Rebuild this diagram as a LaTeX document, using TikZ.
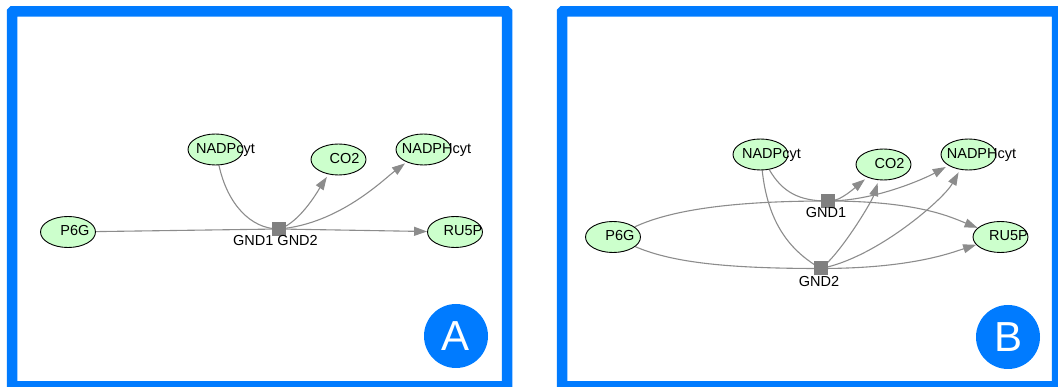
\documentclass[tikz,border=0pt]{standalone}
\usepackage{fontspec}
\setmainfont{Liberation Sans}
\usetikzlibrary{arrows.meta,shapes.geometric}
\definecolor{frameblue}{RGB}{0,123,255}
\definecolor{metfill}{RGB}{204,255,204}
\definecolor{edgegray}{RGB}{140,140,140}
\definecolor{rxngray}{RGB}{128,128,128}
\pgfdeclarelayer{edges}
\pgfsetlayers{edges,main}
\tikzset{
  metab/.style={ellipse, draw=black, line width=0.9pt, fill=metfill,
    minimum width=55pt, minimum height=31pt, inner sep=0pt},
  mlabel/.style={font=\fontsize{14.5}{17}\selectfont, inner sep=0pt,
    text height=10.5pt, text depth=3pt},
  rxn/.style={rectangle, fill=rxngray, minimum size=14pt, inner sep=0pt},
  rlabel/.style={font=\fontsize{14.5}{17}\selectfont, inner sep=0pt},
  flow/.style={draw=edgegray, line width=1.1pt},
  prod/.style={flow, -{Triangle[length=13pt,width=9pt]}},
  panel/.style={draw=frameblue, line width=10.5pt, rounded corners=0.5pt},
  tag/.style={circle, fill=frameblue, minimum size=64pt, inner sep=0pt,
    text=white, font=\fontsize{42}{42}\selectfont},
}
\begin{document}
\begin{tikzpicture}[x=1pt, y=-1pt]
\useasboundingbox (0,0) rectangle (1058,387);
\clip (0,0) rectangle (1058,387);

% ---------- panel A: one merged reaction node ----------
\draw[panel] (12,11.5) rectangle (507,386.5);
\node[tag] (tagA) at (456,336) {A};

\node[metab, label={[mlabel, xshift=7pt]center:P6G}]      (p6gA)   at (68,232)    {};
\node[metab, label={[mlabel, xshift=10pt]center:NADPcyt}] (nadpA)  at (215.5,149.5) {};
\node[metab, label={[mlabel, xshift=6pt]center:CO2}]      (co2A)   at (338.5,159.5) {};
\node[metab, label={[mlabel, xshift=13pt]center:NADPHcyt}](nadphA) at (423.5,149.5) {};
\node[metab, label={[mlabel, xshift=8pt]center:RU5P}]     (ru5pA)  at (455,232)   {};
\node[rxn] (gndA) at (279,229) {};
\node[rlabel] (gndAlbl) at (275.5,241) {GND1 GND2};

\begin{pgfonlayer}{edges}
\draw[flow] (p6gA) -- (gndA.center);
\draw[flow] (nadpA) .. controls +(12,55) and +(-28,0) .. (gndA.center);
\draw[prod, shorten >=3pt] (gndA.center) .. controls +(22,-6) and +(-16,24) .. (co2A);
\draw[prod, shorten >=2pt] (gndA.center) .. controls +(60,-5) and +(-40,30) .. (nadphA);
\draw[prod] (gndA.center) -- (ru5pA);
\end{pgfonlayer}

% ---------- panel B: two separate reaction nodes ----------
\draw[panel] (562,11.5) rectangle (1057,386.5);
\node[tag] (tagB) at (1008,337) {B};

\node[metab, label={[mlabel, xshift=7pt]center:P6G}]      (p6gB)   at (613,237)    {};
\node[metab, label={[mlabel, xshift=11pt]center:NADPcyt}] (nadpB)  at (760.5,154.5) {};
\node[metab, label={[mlabel, xshift=6pt]center:CO2}]      (co2B)   at (883.5,164.5) {};
\node[metab, label={[mlabel, xshift=13pt]center:NADPHcyt}](nadphB) at (968.5,154.5) {};
\node[metab, label={[mlabel, xshift=8pt]center:RU5P}]     (ru5pB)  at (1000.5,237)  {};
\node[rxn] (gnd1B) at (827.5,201)   {};
\node[rxn] (gnd2B) at (820.5,268.5) {};
\node[rlabel] (gnd1Blbl) at (826,213)   {GND1};
\node[rlabel] (gnd2Blbl) at (819,281.5) {GND2};

\begin{pgfonlayer}{edges}
% GND1
\draw[flow] (p6gB) .. controls +(60,-28) and +(-90,0) .. (gnd1B.center);
\draw[flow] (nadpB) .. controls +(22,38) and +(-28,0) .. (gnd1B.center);
\draw[prod] (gnd1B.center) .. controls +(90,0) and +(-50,-20) .. (ru5pB);
\draw[prod, shorten >=3pt] (gnd1B) .. controls +(16,-2) and +(-20,16) .. (co2B);
\draw[prod, shorten >=3pt] (gnd1B.center) .. controls +(50,0) and +(-40,22) .. (nadphB);
% GND2
\draw[flow] (p6gB) .. controls +(60,26) and +(-90,0) .. (gnd2B.center);
\draw[flow] (nadpB) .. controls +(8,75) and +(-25,-15) .. (gnd2B.center);
\draw[prod] (gnd2B.center) .. controls +(90,0) and +(-50,16) .. (ru5pB);
\draw[prod, shorten >=3pt] (gnd2B.center) .. controls +(18,-12) and +(-12,38) .. (co2B);
\draw[prod, shorten >=3pt] (gnd2B.center) .. controls +(55,-10) and +(-25,45) .. (nadphB);
\end{pgfonlayer}
\end{tikzpicture}
\end{document}
